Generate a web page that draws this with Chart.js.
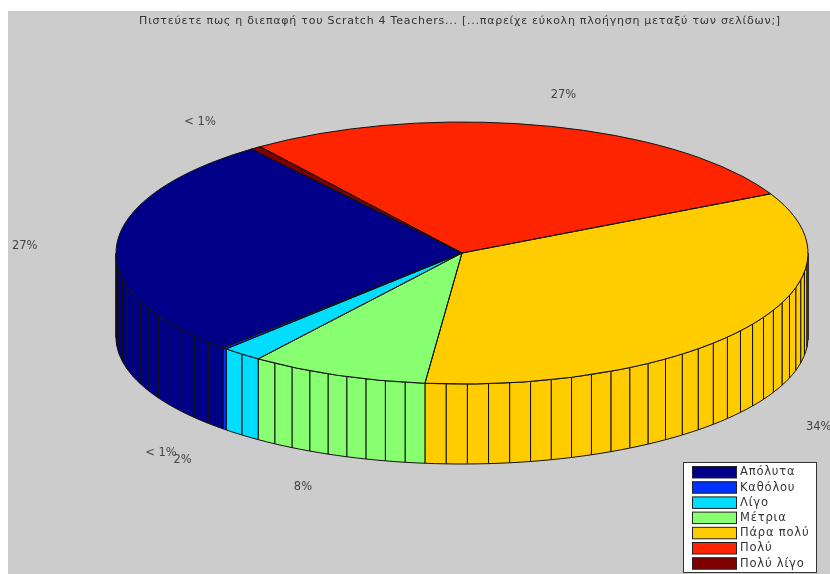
<!DOCTYPE html>
<html>
<head>
<meta charset="utf-8">
<title>Scratch 4 Teachers</title>
<style>
  html, body { margin: 0; padding: 0; background: #fff; }
  #wrap { position: relative; width: 830px; height: 574px; overflow: hidden; }
  #plate { position: absolute; left: 8px; top: 11px; right: 0; bottom: 0; background: #ccc; }
  #chart { position: absolute; left: 0; top: 0; filter: blur(0.55px); }
</style>
<script src="https://cdn.jsdelivr.net/npm/chart.js@4"></script>
</head>
<body>
<div id="wrap">
  <div id="plate"></div>
  <canvas id="chart" width="830" height="574"></canvas>
</div>
<script>
const chartTitle = 'Πιστεύετε πως η διεπαφή του Scratch 4 Teachers... [...παρείχε εύκολη πλοήγηση μεταξύ των σελίδων;]';
const categories = ['Απόλυτα', 'Καθόλου', 'Λίγο', 'Μέτρια', 'Πάρα πολύ', 'Πολύ', 'Πολύ λίγο'];
const shares = [27.4, 0.2, 1.9, 8.3, 34.1, 27.4, 0.5];
const shareLabels = ['27%', '< 1%', '2%', '8%', '34%', '27%', '< 1%'];
const colors = ['#000088', '#0033ff', '#00ddff', '#88ff70', '#ffcc00', '#ff2400', '#800000'];

// the pie runs the other way round from the legend, so feed it reversed
const rev = arr => arr.slice().reverse();

// projected top and bottom faces of the pie
const CX = 462, CY = 253, RX = 346, RY = 131;
const BASE_CY = 337, BASE_RY = 127;
const LABEL_R = 1.26, LABEL_DROP = 78;

const pie3d = {
  id: 'pie3d',
  beforeDraw(chart) {
    // the title is spaced out a little to reach the reference width
    chart.ctx.letterSpacing = '0.75px';
  },
  beforeDatasetsDraw(chart) {
    const ctx = chart.ctx;
    ctx.letterSpacing = '0px';
    const arcs = chart.getDatasetMeta(0).data;
    const total = shares.reduce((a, b) => a + b, 0);

    // side wall, only the front half shows
    ctx.save();
    ctx.lineWidth = 1;
    ctx.strokeStyle = '#111';
    arcs.forEach((arc, i) => {
      const start = arc.startAngle, end = arc.endAngle;
      const n = Math.ceil(100 * rev(shares)[i] / total);
      ctx.fillStyle = rev(colors)[i];
      for (let k = 0; k < n; k++) {
        const a0 = start + (end - start) * k / n;
        const a1 = start + (end - start) * (k + 1) / n;
        if (Math.sin(a0) <= 0 && Math.sin(a1) <= 0) continue;
        const from = Math.sin(a0) <= 0 ? 2 * Math.PI * Math.ceil(a0 / (2 * Math.PI)) : a0;
        const to = Math.sin(a1) <= 0 ? Math.PI * Math.round(a1 / Math.PI) : a1;
        ctx.beginPath();
        ctx.ellipse(CX, CY, RX, RY, 0, from, to);
        ctx.ellipse(CX, BASE_CY, RX, BASE_RY, 0, to, from, true);
        ctx.closePath();
        ctx.fill();
        ctx.stroke();
      }
    });
    ctx.restore();

    // squash the library's own arcs onto the top face
    const first = arcs[0];
    ctx.save();
    ctx.translate(CX, CY);
    ctx.scale(RX / first.outerRadius, RY / first.outerRadius);
    ctx.translate(-first.x, -first.y);
  },
  afterDatasetsDraw(chart) {
    const ctx = chart.ctx;
    ctx.restore();
    const arcs = chart.getDatasetMeta(0).data;

    ctx.save();
    ctx.lineWidth = 1;
    ctx.strokeStyle = '#111';
    arcs.forEach(arc => {
      ctx.beginPath();
      ctx.moveTo(CX, CY);
      ctx.ellipse(CX, CY, RX, RY, 0, arc.startAngle, arc.endAngle);
      ctx.closePath();
      ctx.stroke();
    });

    ctx.fillStyle = '#444';
    ctx.font = '11.5px "DejaVu Sans"';
    ctx.textAlign = 'center';
    ctx.textBaseline = 'middle';
    arcs.forEach((arc, i) => {
      const mid = (arc.startAngle + arc.endAngle) / 2;
      const x = CX - 2 + RX * LABEL_R * Math.cos(mid);
      const sy = Math.sin(mid);
      const y = CY + 2 + RY * LABEL_R * sy + (sy > 0 ? LABEL_DROP : 0);
      ctx.fillText(rev(shareLabels)[i], x, y);
    });
    ctx.restore();
  },
  afterDraw(chart) {
    // legend box sits in the corner over the plot
    const ctx = chart.ctx;
    const left = 683, top = 462, width = 134, height = 111, pitch = 15.2;
    ctx.save();
    ctx.fillStyle = '#fff';
    ctx.fillRect(left, top, width, height);
    ctx.strokeStyle = '#333';
    ctx.lineWidth = 1;
    ctx.strokeRect(left + 0.5, top + 0.5, width - 1, height - 1);
    ctx.font = '11.5px "DejaVu Sans"';
    ctx.letterSpacing = '0.8px';
    ctx.textBaseline = 'middle';
    ctx.textAlign = 'left';
    categories.forEach((name, i) => {
      const rowY = top + 4 + i * pitch;
      ctx.fillStyle = colors[i];
      ctx.fillRect(left + 9.5, rowY + 0.5, 44, 11.5);
      ctx.strokeStyle = '#222';
      ctx.strokeRect(left + 9.5, rowY + 0.5, 44, 11.5);
      ctx.fillStyle = '#333';
      ctx.fillText(name, left + 57, rowY + 6.5);
    });
    ctx.restore();
  }
};

new Chart(document.getElementById('chart'), {
  type: 'pie',
  data: {
    labels: rev(categories),
    datasets: [{
      data: rev(shares),
      backgroundColor: rev(colors),
      borderWidth: 0,
      clip: false
    }]
  },
  options: {
    responsive: false,
    animation: false,
    rotation: -37.5,
    layout: { padding: { left: 90, top: 15, bottom: 10 } },
    plugins: {
      legend: { display: false },
      tooltip: { enabled: false },
      title: {
        display: true,
        text: chartTitle,
        fullSize: false,
        color: '#333',
        font: { family: '"DejaVu Sans"', size: 11, weight: 'normal' },
        padding: { top: 0, bottom: 4 }
      }
    }
  },
  plugins: [pie3d]
});
</script>
</body>
</html>
